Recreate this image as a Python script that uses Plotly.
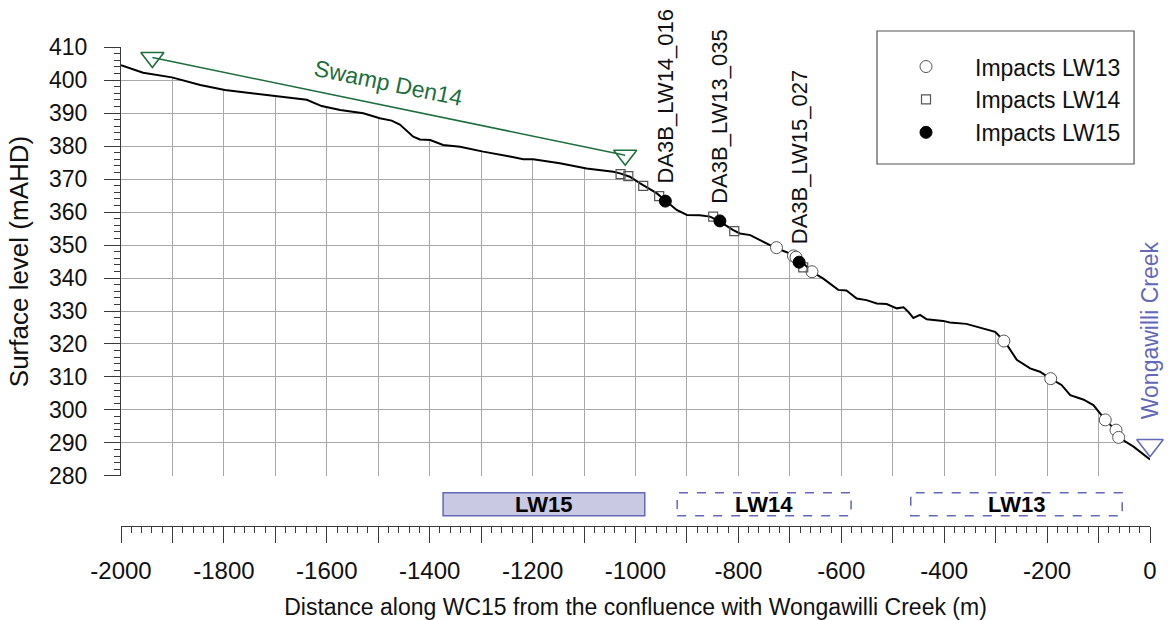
import plotly.graph_objects as go

# ---------------- data ----------------
PROFILE_X = [-2000, -1957, -1901, -1846, -1798, -1736, -1697, -1678, -1639, -1610,
             -1574, -1529, -1497, -1474, -1458, -1432, -1419, -1399, -1374, -1341,
             -1296, -1244, -1218, -1199, -1147, -1095, -1043, -1030, -1011, -991,
             -959, -939, -920, -900, -875, -855, -836, -810, -797, -777,
             -745, -726, -693, -674, -657, -635, -606, -590, -570, -551,
             -531, -512, -492, -479, -470, -460, -447, -434, -402, -389,
             -357, -324, -301, -282, -259, -233, -214, -194, -172, -155,
             -130, -110, -97, -87, -71, -58, -32, 0]
PROFILE_Y = [404.5, 402.2, 400.8, 398.5, 397.0, 395.8, 395.0, 394.8, 394.0, 392.1,
             390.9, 389.9, 388.4, 387.7, 386.5, 382.8, 382.0, 381.8, 380.3, 379.8,
             378.3, 376.8, 376.0, 376.0, 374.8, 373.2, 372.2, 371.7, 370.7, 368.7,
             365.7, 363.1, 360.6, 359.1, 359.0, 358.6, 357.1, 354.5, 353.5, 353.0,
             350.5, 349.0, 347.0, 344.5, 341.9, 339.8, 336.4, 336.2, 333.8, 333.3,
             332.3, 332.1, 330.8, 331.1, 329.8, 327.9, 328.8, 327.5, 327.0, 326.5,
             326.1, 324.8, 323.7, 320.7, 315.2, 312.6, 311.6, 309.6, 307.6, 304.5,
             303.2, 301.5, 299.0, 297.0, 294.5, 291.4, 288.9, 285.0]

LW13_X = [-726, -693, -688, -657, -284, -193, -87, -66, -61]
LW13_Y = [349.2, 346.7, 346.3, 341.9, 320.9, 309.5, 297.0, 293.9, 291.7]
LW14_X = [-1029, -1014, -985, -954, -849, -808, -674]
LW14_Y = [371.5, 370.9, 367.9, 364.8, 358.6, 354.2, 343.2]
LW15_X = [-942, -836, -682]
LW15_Y = [363.3, 357.3, 344.8]
LW15_LABELS = ["DA3B_LW14_016", "DA3B_LW13_035", "DA3B_LW15_027"]

SWAMP_X = [-1939, -1020]
SWAMP_Y = [406.8, 377.2]
SWAMP_NAME = "Swamp Den14"

CREEK_X = [0]
CREEK_Y = [289.3]
CREEK_NAME = "Wongawilli Creek"

PANEL_NAMES = ["LW15", "LW14", "LW13"]
PANEL_START = [-1374, -919, -465]
PANEL_END = [-982, -581, -54]
PANEL_MINED = [True, False, False]

X_TICKS = list(range(-2000, 1, 100))
X_TICK_TEXT = [str(v) if v % 200 == 0 else "" for v in X_TICKS]
Y_TICKS = list(range(280, 411, 10))

X_TITLE = "Distance along WC15 from the confluence with Wongawilli Creek (m)"
Y_TITLE = "Surface level (mAHD)"

# ---------------- style ----------------
FONT = "Arial, 'Liberation Sans', Arimo, sans-serif"
GRID = "#a9a9a9"
AXIS = "#3a3a3a"
TEXT = "#111111"
GREEN = "#1e6e3e"
BLUE = "#6468b8"
PANEL_FILL = "#c9c9e3"
X_MIN, X_MAX = -2000, 0
Y_MIN, Y_MAX = 280, 410

fig = go.Figure()

# white mask above the profile (hides grid above the ground line)
fig.add_trace(go.Scatter(x=[X_MIN, X_MAX], y=[Y_MAX + 10, Y_MAX + 10], mode="lines",
                         line=dict(width=0, color="white"), hoverinfo="skip",
                         showlegend=False))
fig.add_trace(go.Scatter(x=PROFILE_X, y=PROFILE_Y, mode="lines", fill="tonexty",
                         fillcolor="white", line=dict(color="black", width=2),
                         showlegend=False))

# swamp line
fig.add_trace(go.Scatter(x=SWAMP_X, y=SWAMP_Y, mode="lines+markers",
                         line=dict(color=GREEN, width=1.6),
                         marker=dict(symbol="triangle-down-open", size=20,
                                     color=GREEN, line=dict(width=1.6, color=GREEN)),
                         cliponaxis=False, showlegend=False))

# creek marker
fig.add_trace(go.Scatter(x=CREEK_X, y=CREEK_Y, mode="markers",
                         marker=dict(symbol="triangle-down-open", size=23,
                                     color=BLUE, line=dict(width=1.6, color=BLUE)),
                         cliponaxis=False, showlegend=False))

# impacts
fig.add_trace(go.Scatter(x=LW13_X, y=LW13_Y, mode="markers", name="Impacts LW13",
                         legendgroup="g13",
                         marker=dict(symbol="circle", size=12, color="white",
                                     line=dict(color="#555555", width=1)),
                         cliponaxis=False))
fig.add_trace(go.Scatter(x=LW14_X, y=LW14_Y, mode="markers", name="Impacts LW14",
                         legendgroup="g14",
                         marker=dict(symbol="square-open", size=9, color="#555555",
                                     line=dict(color="#555555", width=1.2)),
                         cliponaxis=False))
fig.add_trace(go.Scatter(x=LW15_X, y=LW15_Y, mode="markers", name="Impacts LW15",
                         legendgroup="g15",
                         marker=dict(symbol="circle", size=12, color="black",
                                     line=dict(color="black", width=1)),
                         cliponaxis=False))

annotations = []
for x, y, t in zip(LW15_X, LW15_Y, LW15_LABELS):
    annotations.append(dict(x=x, y=y + 4.7, text=t, textangle=-90, showarrow=False,
                            xanchor="center", yanchor="bottom",
                            font=dict(size=22, color=TEXT, family=FONT)))

# swamp label along its line
mx = (SWAMP_X[0] + SWAMP_X[1]) / 2
my = (SWAMP_Y[0] + SWAMP_Y[1]) / 2
annotations.append(dict(x=mx, y=my + 7.2, text=SWAMP_NAME, textangle=11.7,
                        showarrow=False, xanchor="center", yanchor="middle",
                        font=dict(size=23, color=GREEN, family=FONT)))
annotations.append(dict(x=CREEK_X[0], y=CREEK_Y[0] + 7.3, text=CREEK_NAME,
                        textangle=-90, showarrow=False, xanchor="center",
                        yanchor="bottom",
                        font=dict(size=23, color=BLUE, family=FONT)))

# panel boxes (longwalls)
PANEL_Y0, PANEL_Y1 = 0.0215, 0.0695
shapes = []
for name, x0, x1, mined in zip(PANEL_NAMES, PANEL_START, PANEL_END, PANEL_MINED):
    shapes.append(dict(type="rect", xref="x", yref="paper", x0=x0, x1=x1,
                       y0=PANEL_Y0, y1=PANEL_Y1, layer="above",
                       fillcolor=PANEL_FILL if mined else "rgba(0,0,0,0)",
                       line=dict(color=BLUE, width=1.5,
                                 dash="solid" if mined else "dash")))
    annotations.append(dict(x=(x0 + x1) / 2, y=(PANEL_Y0 + PANEL_Y1) / 2,
                            xref="x", yref="paper", text="<b>%s</b>" % name,
                            showarrow=False, xanchor="center", yanchor="middle",
                            font=dict(size=22, color="black", family=FONT)))

# legend frame
shapes.append(dict(type="rect", xref="paper", yref="paper", x0=0.7347, x1=0.9845,
                   y0=0.7557, y1=1.0334, line=dict(color="#555555", width=1.2),
                   fillcolor="rgba(0,0,0,0)", layer="above"))

fig.update_layout(
    width=1168, height=620,
    margin=dict(l=121, r=18, t=47, b=94, autoexpand=False),
    paper_bgcolor="white", plot_bgcolor="white",
    font=dict(family=FONT, size=22, color=TEXT),
    showlegend=True,
    legend=dict(x=0.7347, y=1.004, xanchor="left", yanchor="top",
                traceorder="normal",
                bgcolor="rgba(0,0,0,0)", borderwidth=0, itemwidth=88,
                tracegroupgap=2, font=dict(size=23, family=FONT, color=TEXT)),
    shapes=shapes,
    annotations=annotations,
    xaxis=dict(range=[X_MIN, X_MAX], anchor="free", position=0, automargin=False,
               tickmode="array", tickvals=X_TICKS, ticktext=X_TICK_TEXT,
               ticks="outside", ticklen=16, tickwidth=1, tickcolor=AXIS,
               showline=True, linecolor=AXIS, linewidth=1.2,
               showgrid=True, gridcolor=GRID, gridwidth=1, zeroline=False,
               minor=dict(dtick=20, ticks="outside", ticklen=6, tickcolor=AXIS,
                          showgrid=False),
               tickfont=dict(size=24, family=FONT, color=TEXT),
               ticklabelstandoff=7,
               title=dict(text=X_TITLE, font=dict(size=23, family=FONT, color=TEXT),
                          standoff=17)),
    yaxis=dict(range=[Y_MIN, Y_MAX], domain=[0.1044, 1], automargin=False,
               tickmode="array", tickvals=Y_TICKS,
               ticks="outside", ticklen=16, tickwidth=1, tickcolor=AXIS,
               showline=True, linecolor=AXIS, linewidth=1.2,
               showgrid=True, gridcolor=GRID, gridwidth=1, zeroline=False,
               minor=dict(dtick=2, ticks="outside", ticklen=6, tickcolor=AXIS,
                          showgrid=False),
               tickfont=dict(size=23, family=FONT, color=TEXT),
               ticklabelstandoff=12,
               title=dict(text=Y_TITLE, font=dict(size=26, family=FONT, color=TEXT),
                          standoff=12)),
)

fig.write_html("out.html")
